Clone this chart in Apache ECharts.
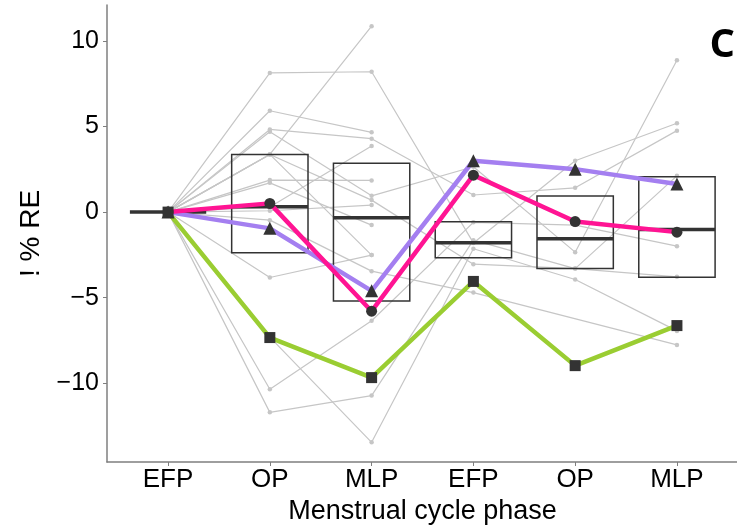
<!DOCTYPE html>
<html>
<head>
<meta charset="utf-8">
<script src="https://cdn.jsdelivr.net/npm/echarts@6/dist/echarts.min.js"></script>
<style>
html,body{margin:0;padding:0;background:#fff;}
#chart{width:737px;height:527px;}
</style>
</head>
<body>
<div id="chart"></div>
<script>
// Categories (x positions 1..6)
var categories = ['EFP', 'OP', 'MLP', 'EFP', 'OP', 'MLP'];
var yTicks = [-10, -5, 0, 5, 10];

// Individual participants (grey), values per phase; null = missing
var p1  = [0, 8.13, 8.2, -1.8, 3.0, 5.19];
var p2  = [0, 5.92, 4.66, null, null, null];
var p3  = [0, 4.83, 4.29, 1.0, 1.42, 4.76];
var p4  = [0, 4.70, 0.95, 2.65, -2.34, 8.87];
var p5  = [0, 3.37, 10.86, null, null, null];
var p6  = [0, 3.37, 0.70, -3.04, -3.3, -3.78];
var p7  = [0, 3.37, -2.51, null, null, null];
var p8  = [0, 1.87, 1.85, null, null, null];
var p9  = [0, 1.71, -0.76, null, null, null];
var p10 = [0, 0.3, 3.86, null, null, null];
var p11 = [0, 0.08, 0.41, null, null, null];
var p12 = [0, -0.47, -3.45, -4.7, null, -7.76];
var p13 = [0, -3.82, -2.51, null, null, null];
var p14 = [0, -7.3, -13.45, -2.14, -3.94, -6.94];
var p15 = [0, -10.35, -6.35, -0.6, -0.76, -1.99];
var p16 = [0, -11.7, -10.72, -1.64, -3.3, 2.12];
var greyParticipants = [p1,p2,p3,p4,p5,p6,p7,p8,p9,p10,p11,p12,p13,p14,p15,p16];

// Highlighted participants
var purpleValues = [0, -0.95, -4.6, 3.0, 2.51, 1.64];
var pinkValues   = [0, 0.51, -5.79, 2.16, -0.55, -1.17];
var greenValues  = [0, -7.33, -9.67, -4.05, -8.97, -6.63];

// Boxes: lower quartile, median, upper quartile
var boxLow    = [0, -2.38, -5.2, -2.67, -3.3, -3.8];
var boxMedian = [0, 0.31, -0.33, -1.79, -1.56, -1.01];
var boxHigh   = [0, 3.37, 2.85, -0.56, 0.94, 2.07];

var xPos = categories.map(function (c, i) { return i + 1; });

function toPoints(vals) {
  var out = [];
  vals.forEach(function (v, i) { if (v !== null) out.push([xPos[i], v]); });
  return out;
}

var FONT = 'Liberation Sans, Arial, sans-serif';
var series = [];

greyParticipants.forEach(function (vals) {
  series.push({
    type: 'line',
    data: toPoints(vals),
    symbol: 'circle',
    symbolSize: 4.5,
    showSymbol: true,
    lineStyle: { color: '#c6c6c6', width: 1.2 },
    itemStyle: { color: '#c6c6c6' },
    z: 1,
    silent: true
  });
});

var boxData = xPos.map(function (x, i) { return [x, boxLow[i], boxMedian[i], boxHigh[i]]; });
series.push({
  type: 'custom',
  data: boxData,
  z: 3,
  renderItem: function (params, api) {
    var x = api.value(0);
    var half = 0.375;
    var tl = api.coord([x - half, api.value(3)]);
    var br = api.coord([x + half, api.value(1)]);
    var ml = api.coord([x - half, api.value(2)]);
    var mr = api.coord([x + half, api.value(2)]);
    var children = [];
    if (Math.abs(br[1] - tl[1]) > 0.5) {
      children.push({
        type: 'rect',
        shape: { x: tl[0], y: tl[1], width: br[0] - tl[0], height: br[1] - tl[1] },
        style: { fill: 'none', stroke: '#333333', lineWidth: 1.5 }
      });
    }
    children.push({
      type: 'line',
      shape: { x1: ml[0], y1: ml[1], x2: mr[0], y2: mr[1] },
      style: { stroke: '#333333', lineWidth: 3.5 }
    });
    return { type: 'group', children: children };
  }
});

function highlight(vals, color, symbol, size) {
  return {
    type: 'line',
    data: toPoints(vals),
    symbol: symbol,
    symbolSize: size,
    showSymbol: true,
    lineStyle: { color: color, width: 4.5 },
    itemStyle: { color: '#333333', borderWidth: 0 },
    z: 5,
    silent: true
  };
}
series.push(highlight(purpleValues, '#a47ff0', 'triangle', 13));
series.push(highlight(pinkValues, '#ff1493', 'circle', 11));
series.push(highlight(greenValues, '#9acd32', 'rect', 11));

var chart = echarts.init(document.getElementById('chart'), null, { renderer: 'canvas' });
chart.setOption({
  animation: false,
  backgroundColor: '#ffffff',
  grid: { left: 107, right: -1, top: 5, bottom: 65, containLabel: false, outerBoundsMode: 'none' },
  xAxis: {
    type: 'value',
    min: 0.4,
    max: 6.6,
    splitLine: { show: false },
    axisLine: { show: true, onZero: false, lineStyle: { color: '#7f7f7f', width: 1.5 } },
    axisTick: { show: true, customValues: xPos, length: 4, lineStyle: { color: '#7f7f7f', width: 1 } },
    axisLabel: {
      customValues: xPos,
      formatter: function (v) { return categories[Math.round(v) - 1]; },
      color: '#000', fontSize: 26, fontFamily: FONT, margin: 5
    },
    name: 'Menstrual cycle phase',
    nameLocation: 'middle',
    nameGap: 31,
    nameTextStyle: { color: '#000', fontSize: 27, fontFamily: FONT }
  },
  yAxis: {
    type: 'value',
    min: -14.6,
    max: 12.1,
    splitLine: { show: false },
    axisLine: { show: true, onZero: false, lineStyle: { color: '#7f7f7f', width: 1.5 } },
    axisTick: { show: true, customValues: yTicks, length: 4, lineStyle: { color: '#7f7f7f', width: 1 } },
    axisLabel: {
      customValues: yTicks,
      formatter: function (v) { return v < 0 ? '\u2212' + Math.abs(v) : String(v); },
      color: '#000', fontSize: 25, fontFamily: FONT, margin: 8
    },
    name: '! % RE',
    nameLocation: 'middle',
    nameRotate: 90,
    nameGap: 62,
    nameTextStyle: { color: '#000', fontSize: 28, fontFamily: FONT }
  },
  graphic: [{
    type: 'text',
    right: 2,
    top: 26,
    style: { text: 'C', fill: '#000', font: 'bold 40px "Open Sans", "DejaVu Sans", sans-serif' }
  }],
  series: series
});
</script>
</body>
</html>
